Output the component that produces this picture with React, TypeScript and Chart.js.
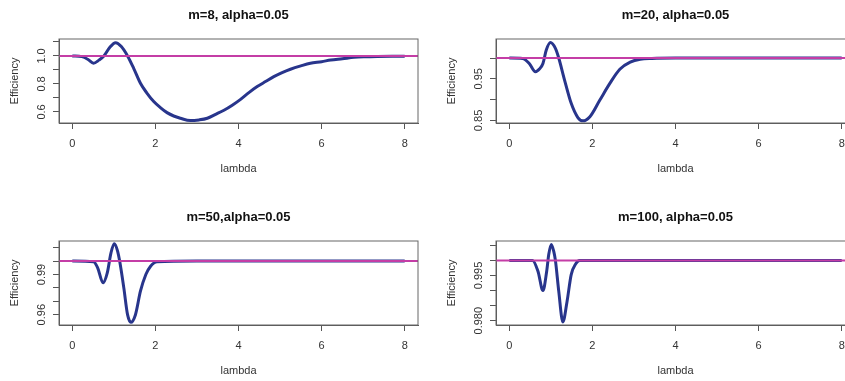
import React, { useEffect, useRef } from 'react';
import { Chart, registerables } from 'chart.js';

Chart.register(...registerables);

const FONT = "'Liberation Sans', Arial, Helvetica, sans-serif";

// shared x axis
const xMin = -0.32;
const xMax = 8.32;
const xTicks = [0, 2, 4, 6, 8];
const xTickLabels = ['0', '2', '4', '6', '8'];
const refLevel = 1.0;

// Panel 1: m=8
const title1 = 'm=8, alpha=0.05';
const lambda1 = [0, 0.23, 0.38, 0.51, 0.64, 0.76, 0.9, 1.04, 1.18, 1.33, 1.48, 1.64, 1.8, 1.96, 2.12, 2.28, 2.44, 2.6, 2.84, 3.05, 3.25, 3.45, 3.65, 3.85, 4.05, 4.25, 4.45, 4.65, 4.85, 5.05, 5.25, 5.5, 5.73, 6.0, 6.22, 6.5, 6.78, 7.05, 7.34, 7.7, 8.0];
const eff1 = [1.0, 0.995, 0.975, 0.948, 0.97, 1.0, 1.06, 1.095, 1.067, 1.0, 0.91, 0.805, 0.733, 0.674, 0.631, 0.595, 0.571, 0.555, 0.538, 0.543, 0.555, 0.583, 0.612, 0.648, 0.69, 0.738, 0.781, 0.817, 0.852, 0.881, 0.905, 0.929, 0.948, 0.959, 0.971, 0.98, 0.99, 0.994, 0.996, 0.997, 0.997];
const yTicks1 = [0.6, 0.7, 0.8, 0.9, 1.0, 1.1];
const yTickLabels1 = ['0.6', '', '0.8', '', '1.0', ''];
const yMin1 = 0.521;
const yMax1 = 1.121;

// Panel 2: m=20
const title2 = 'm=20, alpha=0.05';
const lambda2 = [0, 0.32, 0.48, 0.63, 0.73, 0.81, 0.89, 0.99, 1.11, 1.19, 1.33, 1.49, 1.65, 1.77, 1.94, 2.18, 2.42, 2.66, 2.91, 3.15, 3.43, 4, 5, 6, 7, 8];
const eff2 = [1.0, 0.999, 0.987, 0.967, 0.974, 0.987, 1.019, 1.037, 1.023, 1.0, 0.947, 0.891, 0.857, 0.849, 0.859, 0.899, 0.939, 0.973, 0.99, 0.997, 0.999, 1.0, 1.0, 1.0, 1.0, 1.0];
const yTicks2 = [0.85, 0.9, 0.95, 1.0];
const yTickLabels2 = ['0.85', '', '0.95', ''];
const yMin2 = 0.8438;
const yMax2 = 1.0457;

// Panel 3: m=50
const title3 = 'm=50,alpha=0.05';
const lambda3 = [0, 0.51, 0.61, 0.74, 0.84, 0.93, 1.01, 1.09, 1.14, 1.24, 1.33, 1.41, 1.52, 1.64, 1.77, 1.88, 2.04, 3, 4, 5, 6, 7, 8];
const eff3 = [1.0, 0.9995, 0.995, 0.9838, 0.991, 1.006, 1.013, 1.0075, 1.0, 0.98, 0.96, 0.9543, 0.96, 0.9775, 0.99, 0.996, 0.9995, 1.0, 1.0, 1.0, 1.0, 1.0, 1.0];
const yTicks3 = [0.96, 0.97, 0.98, 0.99, 1.0, 1.01];
const yTickLabels3 = ['0.96', '', '', '0.99', '', ''];
const yMin3 = 0.9523;
const yMax3 = 1.015;

// Panel 4: m=100
const title4 = 'm=100, alpha=0.05';
const lambda4 = [0, 0.56, 0.69, 0.81, 0.9, 0.95, 1.01, 1.07, 1.11, 1.19, 1.29, 1.39, 1.49, 1.6, 1.69, 3, 4, 5, 6, 7, 8];
const eff4 = [1.0, 1.0, 0.9964, 0.99, 0.9964, 1.002, 1.0053, 1.003, 1.0, 0.9898, 0.9796, 0.9864, 0.9953, 0.9989, 1.0, 1.0, 1.0, 1.0, 1.0, 1.0, 1.0];
const yTicks4 = [0.98, 0.985, 0.99, 0.995, 1.0, 1.005];
const yTickLabels4 = ['0.980', '', '', '0.995', '', ''];
const yMin4 = 0.97857;
const yMax4 = 1.00643;

const CW = 438;
const CH = 202;

const boxPlugin = {
  id: 'plotBox',
  afterDraw(chart: any) {
    const { ctx, chartArea } = chart;
    ctx.save();
    ctx.strokeStyle = '#666';
    ctx.lineWidth = 1;
    ctx.strokeRect(chartArea.left, chartArea.top, chartArea.right - chartArea.left, chartArea.bottom - chartArea.top);
    ctx.restore();
  },
};

type PanelProps = {
  left: number;
  top: number;
  title: string;
  lambda: number[];
  eff: number[];
  yTicks: number[];
  yTickLabels: string[];
  yMin: number;
  yMax: number;
};

function Panel({ left, top, title, lambda, eff, yTicks, yTickLabels, yMin, yMax }: PanelProps) {
  const ref = useRef<HTMLCanvasElement>(null);
  useEffect(() => {
    const canvas = ref.current!;
    const m = document.createElement('canvas').getContext('2d')!;
    m.font = `11px ${FONT}`;
    const widest = Math.max(0, ...yTickLabels.map((s) => (s ? m.measureText(s).width : 0)));
    const tickFont = { family: FONT, size: 11 };
    const textColor = '#333';
    const axisColor = '#555';
    const chart = new Chart(canvas, {
      type: 'line',
      data: {
        datasets: [
          {
            data: [{ x: xMin, y: refLevel }, { x: xMax, y: refLevel }],
            borderColor: '#c43da6',
            borderWidth: 2,
            pointRadius: 0,
            order: 0,
          },
          {
            data: lambda.map((x, i) => ({ x, y: eff[i] })),
            borderColor: '#28358c',
            borderWidth: 3,
            pointRadius: 0,
            cubicInterpolationMode: 'monotone',
            order: 1,
          },
        ],
      },
      options: {
        animation: false,
        responsive: false,
        devicePixelRatio: 1,
        layout: { padding: { left: 0, right: 20, top: 0, bottom: 0 } },
        plugins: {
          legend: { display: false },
          tooltip: { enabled: false },
          title: {
            display: true,
            text: title,
            fullSize: false,
            color: '#111',
            font: { family: FONT, size: 13, weight: 'bold', lineHeight: 1.2 },
            padding: { top: 7.2, bottom: 16.2 },
          },
        },
        scales: {
          x: {
            type: 'linear',
            min: xMin,
            max: xMax,
            afterBuildTicks: (s: any) => {
              s.ticks = xTicks.map((v) => ({ value: v }));
            },
            afterFit: (s: any) => {
              s.height = 79;
            },
            ticks: {
              callback: (_v: any, i: number) => xTickLabels[i],
              font: tickFont,
              color: textColor,
              padding: 8.4,
              minRotation: 0,
              maxRotation: 0,
              autoSkip: false,
            },
            grid: { drawOnChartArea: false, tickLength: 6, color: axisColor, tickColor: axisColor },
            border: { color: axisColor },
            title: {
              display: true,
              text: 'lambda',
              color: textColor,
              font: tickFont,
              padding: { top: 0, bottom: 26.4 },
            },
          },
          y: {
            type: 'linear',
            min: yMin,
            max: yMax,
            afterBuildTicks: (s: any) => {
              s.ticks = yTicks.map((v) => ({ value: v }));
            },
            afterFit: (s: any) => {
              s.width = 59;
            },
            ticks: {
              callback: (_v: any, i: number) => yTickLabels[i],
              font: tickFont,
              color: textColor,
              minRotation: 90,
              maxRotation: 90,
              crossAlign: 'center',
              padding: 11.5 - widest / 2,
              autoSkip: false,
            },
            grid: { drawOnChartArea: false, tickLength: 6, color: axisColor, tickColor: axisColor },
            border: { color: axisColor },
            title: {
              display: true,
              text: 'Efficiency',
              color: textColor,
              font: tickFont,
              padding: { top: 8.4, bottom: 0 },
            },
          },
        },
      } as any,
      plugins: [boxPlugin],
    });
    return () => chart.destroy();
  }, []);
  return (
    <canvas
      ref={ref}
      width={CW}
      height={CH}
      style={{ position: 'absolute', left, top, width: CW, height: CH }}
    />
  );
}

export default function App() {
  return (
    <div
      style={{
        position: 'fixed',
        left: 0,
        top: 0,
        width: 845,
        height: 381,
        overflow: 'hidden',
        background: '#fff',
      }}
    >
      <Panel left={0} top={0} title={title1} lambda={lambda1} eff={eff1} yTicks={yTicks1} yTickLabels={yTickLabels1} yMin={yMin1} yMax={yMax1} />
      <Panel left={437} top={0} title={title2} lambda={lambda2} eff={eff2} yTicks={yTicks2} yTickLabels={yTickLabels2} yMin={yMin2} yMax={yMax2} />
      <Panel left={0} top={202} title={title3} lambda={lambda3} eff={eff3} yTicks={yTicks3} yTickLabels={yTickLabels3} yMin={yMin3} yMax={yMax3} />
      <Panel left={437} top={202} title={title4} lambda={lambda4} eff={eff4} yTicks={yTicks4} yTickLabels={yTickLabels4} yMin={yMin4} yMax={yMax4} />
    </div>
  );
}
